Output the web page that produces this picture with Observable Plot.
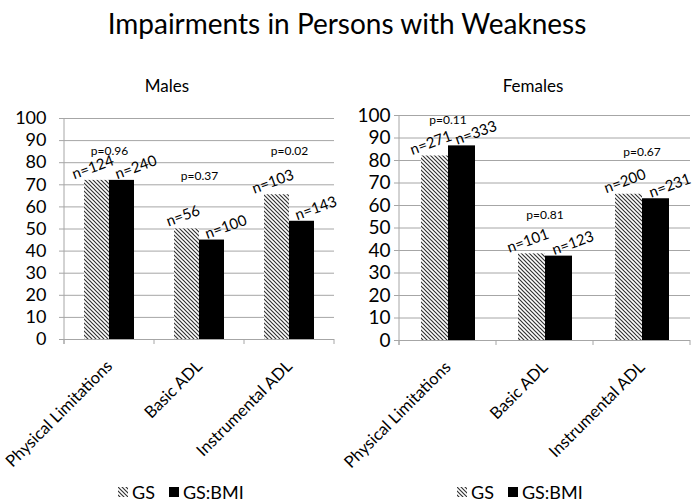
<!DOCTYPE html>
<html><head><meta charset="utf-8">
<script src="https://cdn.jsdelivr.net/npm/d3@7"></script>
<script src="https://cdn.jsdelivr.net/npm/@observablehq/plot@0.6"></script>
<style>
body{margin:0;background:#fff;font-family:Lato,"Open Sans",sans-serif;color:#000;}
#root{position:relative;width:694px;height:503px;overflow:hidden;background:#fff;}
.abs{position:absolute;white-space:nowrap;}
.legend{display:flex;align-items:center;font-size:18px;}
.legend svg{margin-right:4px;}
</style></head><body>
<svg width="0" height="0" style="position:absolute">
  <defs>
    <pattern id="hatch" patternUnits="userSpaceOnUse" width="4" height="4">
      <rect width="4" height="4" fill="#fff"/>
      <path d="M-1,-1 L5,5 M-1,3 L1,5 M3,-1 L5,1" stroke="#333" stroke-width="1.2"/>
    </pattern>
  </defs>
</svg>
<div id="root"></div>
<script>
const categories = ["Physical Limitations", "Basic ADL", "Instrumental ADL"];
const series = ["GS", "GS:BMI"];
const yTicks = [0, 10, 20, 30, 40, 50, 60, 70, 80, 90, 100];

const malesGS = [72, 50, 65.5];
const malesBMI = [72, 45, 53.5];
const malesNGS = [124, 56, 103];
const malesNBMI = [240, 100, 143];
const malesP = ["p=0.96", "p=0.37", "p=0.02"];
const malesPY = [85, 74, 85];

const femalesGS = [82, 38.5, 65];
const femalesBMI = [86.5, 37.5, 63];
const femalesNGS = [271, 101, 200];
const femalesNBMI = [333, 123, 231];
const femalesP = ["p=0.11", "p=0.81", "p=0.67"];
const femalesPY = [98, 55.5, 83.5];

const GRID = "#a6a6a6";
const HATCH = "url(#hatch)";

function panel(cfg) {
  const rows = [];
  categories.forEach((c, i) => {
    rows.push({cat: c, series: series[0], value: cfg.gs[i], n: cfg.nGS[i]});
    rows.push({cat: c, series: series[1], value: cfg.bmi[i], n: cfg.nBMI[i]});
  });
  const pRows = categories.map((c, i) => ({cat: c, p: cfg.p[i], py: cfg.py[i]}));
  const plot = Plot.plot({
    width: 347, height: 375,
    marginLeft: cfg.ml, marginRight: cfg.mr, marginTop: cfg.mt, marginBottom: cfg.mb,
    style: {fontFamily: "Lato, 'Open Sans', sans-serif", background: "transparent", color: "#000", overflow: "visible"},
    fx: {domain: categories, padding: 0, label: null},
    x: {domain: series, paddingInner: 0, paddingOuter: 0.78, axis: null},
    y: {domain: [0, 100], label: null},
    marks: [
      Plot.gridY(yTicks, {stroke: GRID, strokeOpacity: 1}),
      Plot.axisY(yTicks, {tickSize: 5, tickPadding: cfg.tp, fontSize: cfg.yfs, stroke: GRID, label: null}),
      Plot.axisFx({anchor: "bottom", tickSize: 0, tickRotate: -45, tickPadding: 24, fontSize: 16.5, label: null}),
      Plot.barY(rows, {filter: d => d.series === series[0], fx: "cat", x: "series", y: "value", fill: HATCH}),
      Plot.barY(rows, {filter: d => d.series === series[1], fx: "cat", x: "series", y: "value", fill: "#000"}),
      Plot.ruleY([0], {stroke: GRID}),
      Plot.text(rows, {filter: d => d.series === series[0], fx: "cat", x: "series", y: "value",
        text: d => "n=" + d.n, rotate: -20, dy: -13, dx: -4, fontSize: 15, lineAnchor: "middle"}),
      Plot.text(rows, {filter: d => d.series === series[1], fx: "cat", x: "series", y: "value",
        text: d => "n=" + d.n, rotate: -20, dy: -13, dx: 14, fontSize: 15, lineAnchor: "middle"}),
      Plot.text(pRows, {fx: "cat", y: "py", text: "p", fontSize: 12})
    ]
  });
  const svg = d3.select(plot);
  const fx = plot.scale("fx"), y = plot.scale("y");
  const y0 = y.apply(0), y100 = y.apply(100);
  const bounds = categories.map(c => fx.apply(c));
  bounds.push(fx.apply(categories[categories.length - 1]) + fx.bandwidth);
  const g = svg.append("g").attr("stroke", GRID);
  g.append("line").attr("x1", bounds[0]).attr("x2", bounds[0]).attr("y1", y100).attr("y2", y0 + 5);
  bounds.forEach(b => g.append("line").attr("x1", b).attr("x2", b).attr("y1", y0).attr("y2", y0 + 5));
  return plot;
}

function legend() {
  const d = document.createElement("div");
  d.className = "legend";
  d.innerHTML = `<svg width="10" height="10"><rect width="10" height="10" fill="${HATCH}"/></svg><span>${series[0]}</span>
  <svg width="10" height="10" style="margin-left:14px"><rect width="10" height="10" fill="#000"/></svg><span>${series[1]}</span>`;
  return d;
}

const root = document.getElementById("root");
function place(el, left, top, extra) {
  el.classList.add("abs");
  el.style.left = left + "px"; el.style.top = top + "px";
  if (extra) Object.assign(el.style, extra);
  root.appendChild(el);
  return el;
}
function textEl(txt, size) {
  const d = document.createElement("div");
  d.textContent = txt; d.style.fontSize = size + "px";
  return d;
}

place(textEl("Impairments in Persons with Weakness", 28), 0, 6, {width: "694px", textAlign: "center"});
place(textEl("Males", 17), 117, 75, {width: "100px", textAlign: "center"});
place(textEl("Females", 17), 483, 75, {width: "100px", textAlign: "center"});

place(panel({gs: malesGS, bmi: malesBMI, nGS: malesNGS, nBMI: malesNBMI, p: malesP, py: malesPY,
  ml: 63, mr: 12, mt: 18, mb: 136, tp: 13, yfs: 18}), 0, 100);
place(panel({gs: femalesGS, bmi: femalesBMI, nGS: femalesNGS, nBMI: femalesNBMI, p: femalesP, py: femalesPY,
  ml: 52, mr: 4, mt: 15, mb: 135, tp: 4, yfs: 19}), 347, 100);

place(legend(), 118, 481);
place(legend(), 457, 481);
</script>
</body></html>
